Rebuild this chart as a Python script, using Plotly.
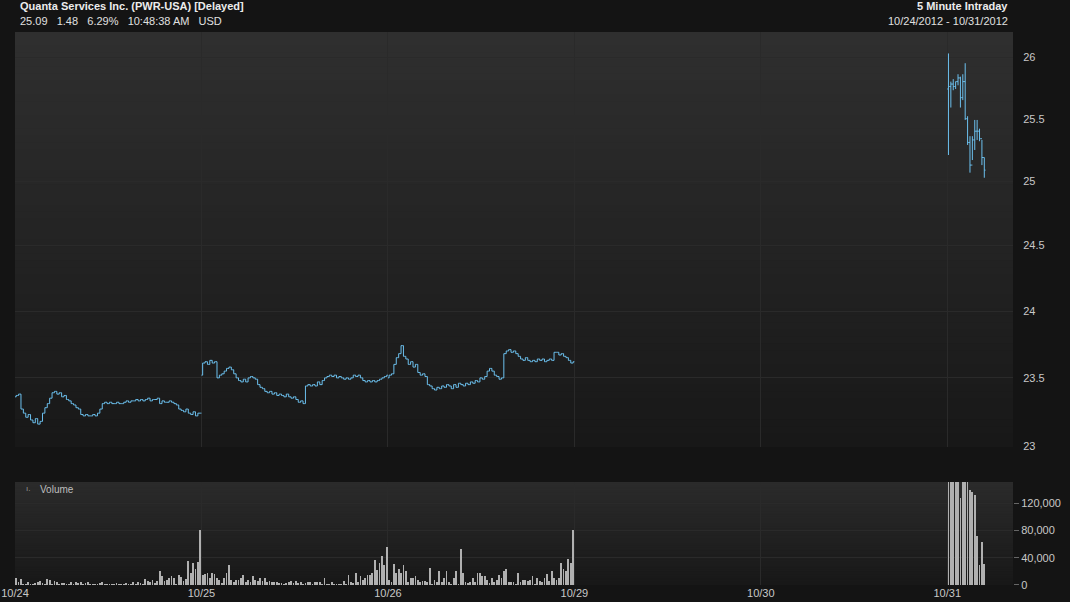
import plotly.graph_objects as go

# ---------------- data ----------------
day_labels = ["10/24", "10/25", "10/26", "10/29", "10/30", "10/31"]
bars_per_day = 78  # 5-minute bars per session

open_24 = 23.36
close_24 = [
    23.37, 23.38, 23.27, 23.24, 23.21, 23.23, 23.19, 23.17, 23.20, 23.16,
    23.18, 23.24, 23.28, 23.31, 23.35, 23.39, 23.40, 23.38, 23.39, 23.36,
    23.37, 23.34, 23.33, 23.31, 23.30, 23.28, 23.27, 23.23, 23.22, 23.23,
    23.22, 23.22, 23.23, 23.22, 23.24, 23.27, 23.31, 23.32, 23.31, 23.32,
    23.31, 23.31, 23.32, 23.31, 23.31, 23.32, 23.33, 23.32, 23.33, 23.33,
    23.34, 23.33, 23.34, 23.33, 23.34, 23.35, 23.33, 23.34, 23.34, 23.35,
    23.31, 23.33, 23.32, 23.32, 23.33, 23.32, 23.31, 23.30, 23.27, 23.26,
    23.25, 23.27, 23.24, 23.23, 23.25, 23.22, 23.24, 23.24,
]
open_25 = 23.52
close_25 = [
    23.61, 23.62, 23.60, 23.63, 23.61, 23.62, 23.50, 23.52, 23.53, 23.55,
    23.57, 23.58, 23.56, 23.53, 23.50, 23.48, 23.47, 23.49, 23.47, 23.50,
    23.51, 23.50, 23.49, 23.45, 23.43, 23.42, 23.40, 23.39, 23.40, 23.38,
    23.39, 23.37, 23.38, 23.37, 23.36, 23.38, 23.36, 23.35, 23.36, 23.34,
    23.32, 23.33, 23.31, 23.44, 23.45, 23.44, 23.45, 23.44, 23.47, 23.45,
    23.48, 23.50, 23.51, 23.52, 23.51, 23.52, 23.50, 23.51, 23.50, 23.49,
    23.50, 23.49, 23.50, 23.52, 23.51, 23.52, 23.50, 23.48, 23.47, 23.48,
    23.47, 23.48, 23.47, 23.48, 23.49, 23.50, 23.51, 23.52,
]
open_26 = 23.50
close_26 = [
    23.52, 23.53, 23.60, 23.65, 23.68, 23.74, 23.66, 23.64, 23.60, 23.62,
    23.58, 23.60, 23.54, 23.52, 23.53, 23.51, 23.45, 23.44, 23.42, 23.41,
    23.43, 23.42, 23.44, 23.43, 23.45, 23.44, 23.42, 23.45, 23.43, 23.46,
    23.45, 23.44, 23.46, 23.45, 23.47, 23.46, 23.48, 23.47, 23.50, 23.49,
    23.51, 23.55, 23.57, 23.55, 23.52, 23.51, 23.49, 23.50, 23.68, 23.70,
    23.71, 23.69, 23.70, 23.68, 23.66, 23.64, 23.63, 23.65, 23.63, 23.62,
    23.63, 23.62, 23.64, 23.63, 23.64, 23.62, 23.63, 23.64, 23.63, 23.69,
    23.69, 23.67, 23.68, 23.66, 23.65, 23.63, 23.61, 23.62,
]
# 10/29 and 10/30: market closed
open_31 = [25.74, 25.76, 25.78, 25.76, 25.80, 25.83, 25.67, 25.80,
           25.50, 25.31, 25.13, 25.33, 25.40, 25.40, 25.34, 25.19]
high_31 = [26.03, 25.80, 25.82, 25.80, 25.86, 25.84, 25.86, 25.95,
           25.52, 25.36, 25.36, 25.49, 25.49, 25.42, 25.33, 25.19]
low_31 = [25.21, 25.59, 25.73, 25.74, 25.77, 25.59, 25.65, 25.49,
          25.29, 25.07, 25.17, 25.25, 25.33, 25.32, 25.13, 25.03]
close_31 = [25.76, 25.78, 25.76, 25.80, 25.83, 25.67, 25.80, 25.50,
            25.31, 25.13, 25.33, 25.40, 25.40, 25.34, 25.19, 25.09]

# volume in thousands of shares
vol_24_k = [
    11, 4, 9, 2, 1, 4, 2, 2, 3, 5,
    6, 3, 2, 9, 7, 2, 6, 4, 2, 3,
    3, 2, 1, 4, 2, 4, 3, 4, 1, 3,
    4, 2, 2, 1, 2, 3, 4, 2, 1, 2,
    1, 1, 3, 2, 2, 1, 3, 1, 2, 4,
    1, 5, 3, 2, 9, 6, 5, 8, 3, 6,
    20, 13, 6, 7, 10, 13, 10, 2, 15, 12,
    6, 9, 35, 17, 33, 24, 34, 80,
]
vol_25_k = [
    15, 16, 17, 10, 17, 16, 10, 8, 3, 11,
    18, 30, 7, 4, 7, 8, 10, 15, 5, 7,
    5, 13, 7, 6, 11, 6, 11, 5, 6, 5,
    4, 5, 3, 3, 2, 3, 4, 6, 3, 6,
    3, 5, 2, 3, 4, 5, 2, 5, 4, 5,
    2, 11, 1, 2, 5, 1, 1, 1, 1, 6,
    1, 14, 5, 3, 17, 5, 13, 7, 11, 15,
    15, 18, 36, 22, 32, 42, 30, 56,
]
vol_26_k = [
    8, 5, 31, 17, 23, 17, 29, 21, 4, 11,
    11, 13, 7, 5, 6, 6, 5, 25, 2, 7,
    5, 20, 5, 10, 20, 5, 2, 10, 21, 2,
    53, 17, 5, 3, 5, 10, 5, 17, 18, 13,
    13, 7, 3, 10, 5, 8, 15, 10, 20, 23,
    5, 5, 5, 2, 18, 5, 7, 7, 6, 7,
    13, 2, 11, 6, 5, 11, 16, 6, 20, 10,
    8, 11, 33, 23, 20, 38, 33, 80,
]
vol_31_k = [160, 160, 160, 160, 160, 128, 160, 160,
            160, 140, 137, 132, 72, 29, 63, 31]

price_ticks = [23, 23.5, 24, 24.5, 25, 25.5, 26]
vol_ticks = [0, 40000, 80000, 120000]

# ---------------- build series ----------------
xs, o, h, l, c, vx, vv = [], [], [], [], [], [], []

def add_day(slot, first_open, closes, vols_k):
    prev = first_open
    for i, cl in enumerate(closes):
        x = slot * bars_per_day + i + 0.5
        xs.append(x); o.append(prev); c.append(cl)
        h.append(max(prev, cl)); l.append(min(prev, cl))
        prev = cl
    for i, v in enumerate(vols_k):
        vx.append(slot * bars_per_day + i + 0.5); vv.append(v * 1000)

add_day(0, open_24, close_24, vol_24_k)
add_day(1, open_25, close_25, vol_25_k)
add_day(2, open_26, close_26, vol_26_k)
for i in range(len(close_31)):
    xs.append(5 * bars_per_day + i + 0.5)
    o.append(open_31[i]); h.append(high_31[i]); l.append(low_31[i]); c.append(close_31[i])
for i, v in enumerate(vol_31_k):
    vx.append(5 * bars_per_day + i + 0.5); vv.append(v * 1000)

# ---------------- figure ----------------
FONT = "Liberation Sans, Arial, sans-serif"
blue = "#6cc0ee"
grid = "#2a2a2a"
lab = "#c8c8c8"

fig = go.Figure()
fig.add_trace(go.Ohlc(x=xs, open=o, high=h, low=l, close=c,
                      increasing_line_color=blue, decreasing_line_color=blue,
                      line_width=1, tickwidth=0.5, xaxis="x", yaxis="y",
                      showlegend=False, hoverinfo="skip"))
fig.add_trace(go.Bar(x=vx, y=vv, width=0.33, marker_color="#b0b0b0",
                     marker_line_width=0, xaxis="x2", yaxis="y2",
                     showlegend=False, hoverinfo="skip"))

price_dom = [0.2495, 1.0]
vol_dom = [0.0, 0.1863]

# gradient backgrounds (overlapping strips to avoid seams)
shapes = []
def gradient(y0, y1, top, bot, n=60):
    step = (y1 - y0) / n
    for k in range(n):
        t = k / (n - 1)
        col = tuple(int(round(top[j] + (bot[j] - top[j]) * t)) for j in range(3))
        ya = y1 - step * k
        yb = max(y0, y1 - step * (k + 1) - step * 0.6)
        shapes.append(dict(type="rect", xref="paper", yref="paper", x0=0, x1=1,
                           y0=yb, y1=ya, fillcolor="rgb(%d,%d,%d)" % col,
                           line_width=0, layer="below"))
gradient(price_dom[0], price_dom[1], (47, 47, 47), (24, 24, 24))
gradient(vol_dom[0], vol_dom[1], (43, 43, 43), (24, 24, 24))

tickvals_x = [k * bars_per_day for k in range(len(day_labels))]
xrange = [0, 417.5]

fig.update_layout(
    width=1070, height=602,
    margin=dict(l=15, r=57, t=32, b=17),
    paper_bgcolor="#141414", plot_bgcolor="rgba(0,0,0,0)",
    font=dict(family=FONT, size=11, color=lab),
    shapes=shapes, bargap=0,
    xaxis=dict(domain=[0, 1], anchor="y", range=xrange, tickvals=tickvals_x,
               ticktext=day_labels, showticklabels=False, showgrid=True,
               gridcolor=grid, gridwidth=1, zeroline=False, showline=False,
               rangeslider=dict(visible=False), automargin=False),
    yaxis=dict(domain=price_dom, anchor="x", type="log", side="right",
               range=[1.36160, 1.41841], tickvals=price_ticks,
               ticktext=[("%g" % t) for t in price_ticks], showgrid=True,
               gridcolor=grid, gridwidth=1, zeroline=False, showline=False,
               ticks="outside", ticklen=7, tickcolor="rgba(0,0,0,0)",
               tickfont=dict(size=11, color=lab), automargin=False),
    xaxis2=dict(domain=[0, 1], anchor="y2", matches="x", range=xrange,
                tickvals=tickvals_x, ticktext=day_labels, showgrid=True,
                gridcolor=grid, gridwidth=1, zeroline=False, showline=False,
                ticks="", tickfont=dict(size=11, color=lab), automargin=False),
    yaxis2=dict(domain=vol_dom, anchor="x2", side="right", range=[0, 151000],
                tickvals=vol_ticks, ticktext=["{:,}".format(t) for t in vol_ticks],
                showgrid=True, gridcolor=grid, gridwidth=1, zeroline=False,
                showline=False, ticks="outside", ticklen=5, tickcolor="#666666",
                tickfont=dict(size=11, color=lab), automargin=False),
)

def px_y(py):
    return (585 - py) / 553.0
def px_x(pxv):
    return (pxv - 15) / 998.0

ann = [
    dict(text="<b>Quanta Services Inc. (PWR-USA) [Delayed]</b>", x=px_x(18), y=px_y(6),
         xanchor="left", yanchor="middle", font=dict(size=11, color="#ececec")),
    dict(text="25.09   1.48   6.29%   10:48:38 AM   USD", x=px_x(18), y=px_y(21),
         xanchor="left", yanchor="middle", font=dict(size=11, color="#e0e0e0")),
    dict(text="<b>5 Minute Intraday</b>", x=px_x(1010), y=px_y(6),
         xanchor="right", yanchor="middle", font=dict(size=11, color="#ececec")),
    dict(text="10/24/2012 - 10/31/2012", x=px_x(1010), y=px_y(21),
         xanchor="right", yanchor="middle", font=dict(size=11, color="#e0e0e0")),
    dict(text="Volume", x=px_x(38), y=px_y(489), xanchor="left", yanchor="middle",
         font=dict(size=10, color="#bdbdbd")),
    dict(text="ı.", x=px_x(24), y=px_y(488), xanchor="left", yanchor="middle",
         font=dict(size=8, color="#9a9a9a")),
]
for a in ann:
    a.update(xref="paper", yref="paper", showarrow=False)
fig.update_layout(annotations=ann)

fig.write_html("out.html",
               config={"displayModeBar": False},
               post_script="document.body.style.margin='0';"
                           "document.body.style.overflow='hidden';")
